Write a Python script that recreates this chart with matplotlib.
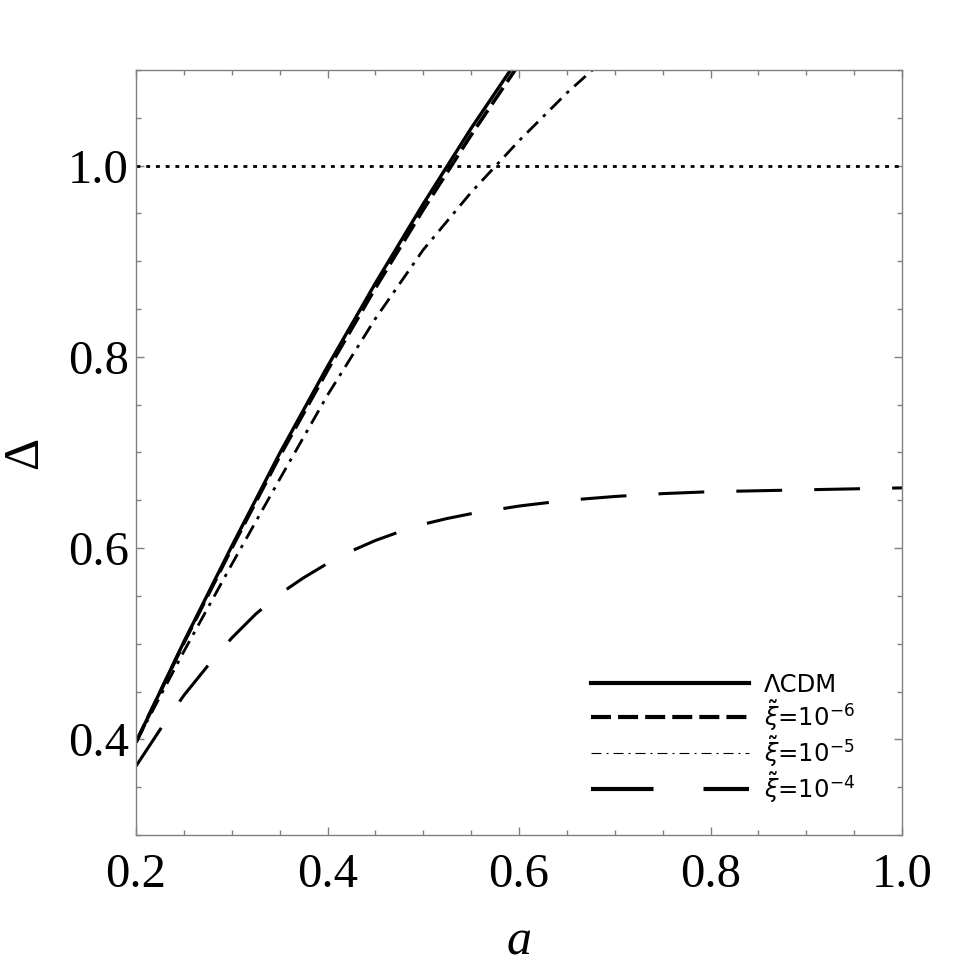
import numpy as np
import matplotlib
matplotlib.use("Agg")
import matplotlib.pyplot as plt
from matplotlib.lines import Line2D
from matplotlib.ticker import MultipleLocator

plt.rcParams["font.family"] = ["Liberation Serif", "DejaVu Serif"]
plt.rcParams["mathtext.fontset"] = "dejavusans"

# --- データ ---
a_grid = [0.20, 0.25, 0.30, 0.35, 0.40, 0.45, 0.50, 0.55, 0.60]
delta_lcdm = [0.397, 0.502, 0.602, 0.699, 0.790, 0.877, 0.960, 1.039, 1.113]
delta_xi6 = [0.397, 0.501, 0.600, 0.696, 0.786, 0.872, 0.954, 1.032, 1.106]

a_xi5 = [0.20, 0.25, 0.30, 0.35, 0.40, 0.45, 0.50, 0.55, 0.60, 0.65, 0.70]
delta_xi5 = [0.397, 0.492, 0.583, 0.672, 0.760, 0.840, 0.912, 0.972, 1.026, 1.076, 1.121]

a_xi4 = [0.20, 0.225, 0.25, 0.275, 0.30, 0.325, 0.35, 0.375, 0.40, 0.425, 0.45, 0.475,
         0.50, 0.525, 0.55, 0.575, 0.60, 0.65, 0.70, 0.75, 0.80, 0.85, 0.90, 0.95, 1.00]
delta_xi4 = [0.372, 0.410, 0.446, 0.477, 0.506, 0.531, 0.552, 0.569, 0.584, 0.597, 0.608, 0.617,
             0.625, 0.631, 0.636, 0.640, 0.644, 0.650, 0.654, 0.657, 0.659, 0.660, 0.661, 0.662, 0.663]

x_ticks = [0.2, 0.4, 0.6, 0.8, 1.0]
y_ticks = [0.4, 0.6, 0.8, 1.0]
labels = [r"ΛCDM", r"$\tilde{\xi}$=10$^{-6}$", r"$\tilde{\xi}$=10$^{-5}$", r"$\tilde{\xi}$=10$^{-4}$"]

fig = plt.figure(figsize=(9.75, 9.71), dpi=100)
ax = fig.add_axes([136 / 975, (971 - 835) / 971, 766 / 975, 765 / 971])

# 曲線
ax.plot(a_grid, delta_lcdm, color="black", lw=2.4, solid_capstyle="butt")
ax.plot(a_grid, delta_xi6, color="black", lw=2.6, linestyle=(0, (5.5, 2.0)))
ax.plot(a_xi5, delta_xi5, color="black", lw=2.0, linestyle=(0, (5.5, 2.6, 1.2, 2.6)))
ax.plot(a_xi4, delta_xi4, color="black", lw=2.2, linestyle=(0, (15, 10.5)))
ax.axhline(1.0, color="black", lw=2.0, linestyle=(0, (1.4, 2.1)))

ax.set_xlim(0.2, 1.0)
ax.set_ylim(0.3, 1.1)

ax.set_xticks(x_ticks)
ax.set_xticklabels([f"{v:.1f}" for v in x_ticks])
ax.set_yticks(y_ticks)
ax.set_yticklabels([f"{v:.1f}" for v in y_ticks])
ax.xaxis.set_minor_locator(MultipleLocator(0.05))
ax.yaxis.set_minor_locator(MultipleLocator(0.05))
ax.tick_params(which="both", direction="in", top=True, right=True, color="0.5", width=1)
ax.tick_params(which="major", length=6, labelsize=35)
ax.tick_params(which="minor", length=3.5)
ax.tick_params(axis="x", which="major", pad=13)
ax.tick_params(axis="y", which="major", pad=5)
for sp in ax.spines.values():
    sp.set_color("0.5")
    sp.set_linewidth(1)

ax.set_xlabel("a", fontsize=36, style="italic", labelpad=16)
ax.set_ylabel("Δ", fontsize=36, labelpad=14)

# 凡例 (見本の線は細めの破線一点鎖線)
handles = [
    Line2D([], [], color="black", lw=3.0),
    Line2D([], [], color="black", lw=3.0, linestyle=(0, (4.8, 1.7))),
    Line2D([], [], color="black", lw=0.8, linestyle=(0, (9, 4.5, 1.8, 4.5))),
    Line2D([], [], color="black", lw=3.0, linestyle=(0, (15, 12))),
]
ax.legend(handles, labels, loc="upper left", bbox_to_anchor=(0.594, 0.212),
          frameon=False, prop={"family": "DejaVu Sans", "size": 17.5},
          handlelength=6.5, handletextpad=0.6, labelspacing=0.04, borderpad=0,
          borderaxespad=0)

fig.savefig("out.png", dpi=100)
